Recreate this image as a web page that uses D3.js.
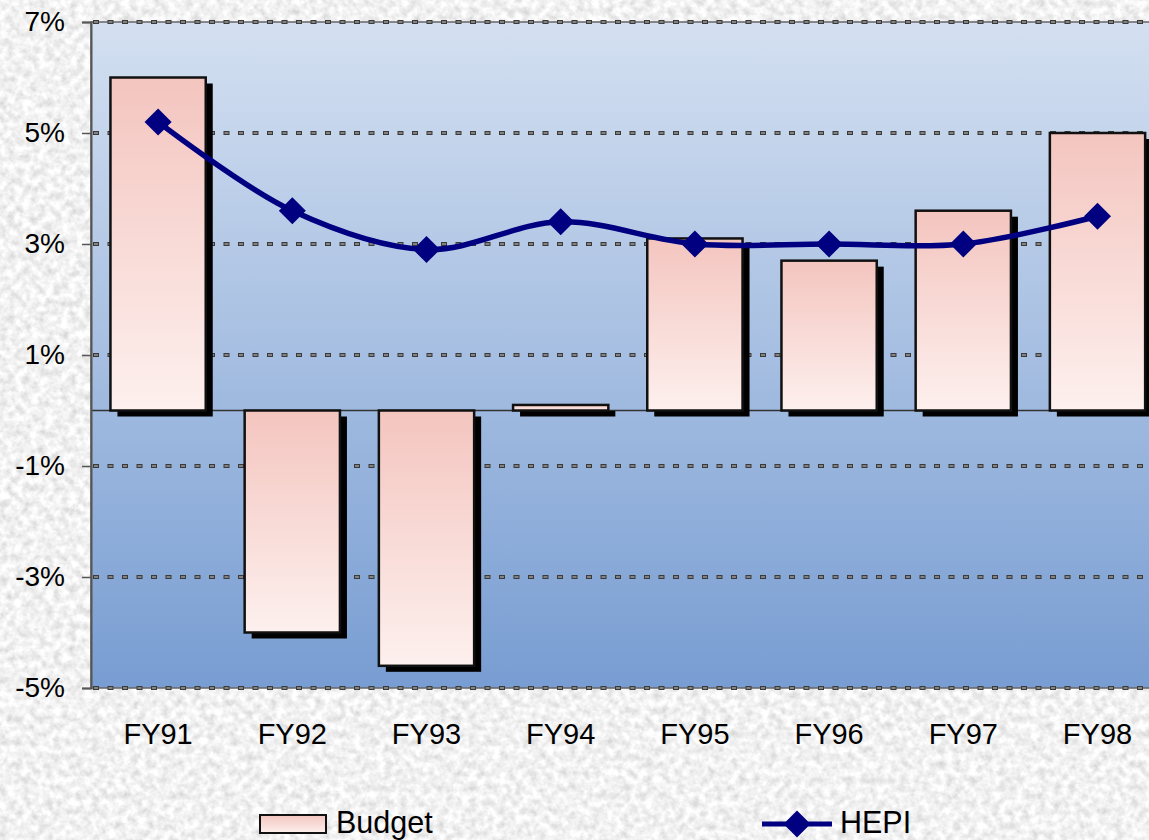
<!DOCTYPE html>
<html>
<head>
<meta charset="utf-8">
<script src="https://cdn.jsdelivr.net/npm/d3@7"></script>
<style>
  body { margin: 0; }
  svg { display: block; }
</style>
</head>
<body>
<div id="chart"></div>
<script>
const categories = ['FY91', 'FY92', 'FY93', 'FY94', 'FY95', 'FY96', 'FY97', 'FY98'];
const budget = [6.0, -4.0, -4.6, 0.1, 3.1, 2.7, 3.6, 5.0];
const hepi = [5.2, 3.6, 2.9, 3.4, 3.0, 3.0, 3.0, 3.5];
const yTicks = [7, 5, 3, 1, -1, -3, -5];
const legendLabels = ['Budget', 'HEPI'];

const w = 1149;
const h = 840;
const plotLeft = 91;
const plotTop = 22;
const plotBottom = 688;
const step = 134.2;
const font = '"Liberation Sans", Arial, sans-serif';

let svg = d3.select('#chart').append('svg').attr('width', w).attr('height', h);
let defs = svg.append('defs');

// granite texture
let noise = defs.append('filter').attr('id', 'noise')
  .attr('x', 0).attr('y', 0).attr('width', '100%').attr('height', '100%');
noise.append('feTurbulence')
  .attr('type', 'fractalNoise')
  .attr('baseFrequency', 0.13)
  .attr('numOctaves', 5)
  .attr('seed', 7);
noise.append('feColorMatrix')
  .attr('type', 'matrix')
  .attr('values', '0.55 0 0 0 0.61  0.55 0 0 0 0.61  0.55 0 0 0 0.61  0 0 0 0 1');

// plot background
let bg = defs.append('linearGradient').attr('id', 'plotBg')
  .attr('x1', 0).attr('y1', 0).attr('x2', 0).attr('y2', 1);
bg.append('stop').attr('offset', '0%').attr('stop-color', '#d4e0f1');
bg.append('stop').attr('offset', '100%').attr('stop-color', '#789dd2');

// bar fill
let barGrad = defs.append('linearGradient').attr('id', 'barFill')
  .attr('x1', 0).attr('y1', 0).attr('x2', 0).attr('y2', 1);
barGrad.append('stop').attr('offset', '0%').attr('stop-color', '#f4c5bf');
barGrad.append('stop').attr('offset', '100%').attr('stop-color', '#fdf0ee');

svg.append('rect').attr('width', w).attr('height', h).attr('filter', 'url(#noise)');

let x = d3.scaleBand().domain(categories).range([plotLeft, plotLeft + categories.length * step])
  .paddingInner(0.29).paddingOuter(0.145);
let y = d3.scaleLinear().domain([-5, 7]).range([plotBottom, plotTop]);

svg.append('rect')
  .attr('x', plotLeft).attr('y', plotTop)
  .attr('width', w - plotLeft + 20).attr('height', plotBottom - plotTop)
  .attr('fill', 'url(#plotBg)')
  .attr('stroke', '#666').attr('stroke-width', 1.5);

// gridlines: dark dash outline with a lighter core
let grid = svg.append('g');
grid.selectAll('line.outer')
  .data(yTicks)
  .enter().append('line')
  .attr('class', 'outer')
  .attr('x1', plotLeft + 2).attr('x2', w)
  .attr('y1', d => y(d)).attr('y2', d => y(d))
  .attr('stroke', '#3a3a3a')
  .attr('stroke-width', 4)
  .attr('stroke-dasharray', '6,8.5');
grid.selectAll('line.inner')
  .data(yTicks)
  .enter().append('line')
  .attr('class', 'inner')
  .attr('x1', plotLeft + 3).attr('x2', w)
  .attr('y1', d => y(d)).attr('y2', d => y(d))
  .attr('stroke', '#9a9a9a')
  .attr('stroke-width', 1.5)
  .attr('stroke-dasharray', '4,10.5');

// zero line
svg.append('line')
  .attr('x1', plotLeft).attr('x2', w)
  .attr('y1', y(0)).attr('y2', y(0))
  .attr('stroke', '#333').attr('stroke-width', 1.5);

// left axis
let ax = svg.append('g')
  .attr('transform', `translate(${plotLeft},0)`)
  .call(d3.axisLeft(y).tickValues(yTicks).tickSize(9).tickFormat(d => d + '%'));
ax.select('.domain').attr('stroke', '#555').attr('stroke-width', 2);
ax.selectAll('.tick line').attr('stroke', '#555').attr('stroke-width', 1.5);
ax.selectAll('.tick text')
  .attr('x', -26)
  .attr('fill', '#000')
  .attr('font-family', font)
  .attr('font-size', 28);

// bars with shadow
let bars = svg.append('g');
bars.selectAll('rect.shadow')
  .data(budget)
  .enter().append('rect')
  .attr('class', 'shadow')
  .attr('x', (d, i) => x(categories[i]) + 7)
  .attr('y', d => Math.min(y(d), y(0)) + 6)
  .attr('width', x.bandwidth())
  .attr('height', d => Math.abs(y(d) - y(0)))
  .attr('fill', '#000');

bars.selectAll('rect.bar')
  .data(budget)
  .enter().append('rect')
  .attr('class', 'bar')
  .attr('x', (d, i) => x(categories[i]))
  .attr('y', d => Math.min(y(d), y(0)))
  .attr('width', x.bandwidth())
  .attr('height', d => Math.abs(y(d) - y(0)))
  .attr('fill', 'url(#barFill)')
  .attr('stroke', '#111')
  .attr('stroke-width', 2.5);

// HEPI line
let pts = hepi.map((d, i) => [x(categories[i]) + x.bandwidth() / 2, y(d)]);
svg.append('path')
  .attr('d', d3.line().curve(d3.curveCatmullRom.alpha(0.5))(pts))
  .attr('fill', 'none')
  .attr('stroke', '#000080')
  .attr('stroke-width', 5.5);

let diamond = d3.symbol().type(d3.symbolSquare).size(365);
svg.append('g').selectAll('path')
  .data(pts)
  .enter().append('path')
  .attr('d', diamond)
  .attr('transform', d => `translate(${d[0]},${d[1]}) rotate(45)`)
  .attr('fill', '#000080');

// category labels
svg.append('g').selectAll('text')
  .data(categories)
  .enter().append('text')
  .attr('x', d => x(d) + x.bandwidth() / 2)
  .attr('y', 744)
  .attr('text-anchor', 'middle')
  .attr('font-family', font)
  .attr('font-size', 29)
  .text(d => d);

// legend
let lg = svg.append('g');
lg.append('rect')
  .attr('x', 260).attr('y', 815).attr('width', 66).attr('height', 18)
  .attr('fill', 'url(#barFill)')
  .attr('stroke', '#111').attr('stroke-width', 2);
lg.append('text')
  .attr('x', 336).attr('y', 833)
  .attr('font-family', font).attr('font-size', 30.5)
  .text(legendLabels[0]);
lg.append('line')
  .attr('x1', 762).attr('x2', 832).attr('y1', 824).attr('y2', 824)
  .attr('stroke', '#000080').attr('stroke-width', 5);
lg.append('path')
  .attr('d', diamond)
  .attr('transform', 'translate(797,824) rotate(45)')
  .attr('fill', '#000080');
lg.append('text')
  .attr('x', 840).attr('y', 833)
  .attr('font-family', font).attr('font-size', 30.5)
  .text(legendLabels[1]);
</script>
</body>
</html>
